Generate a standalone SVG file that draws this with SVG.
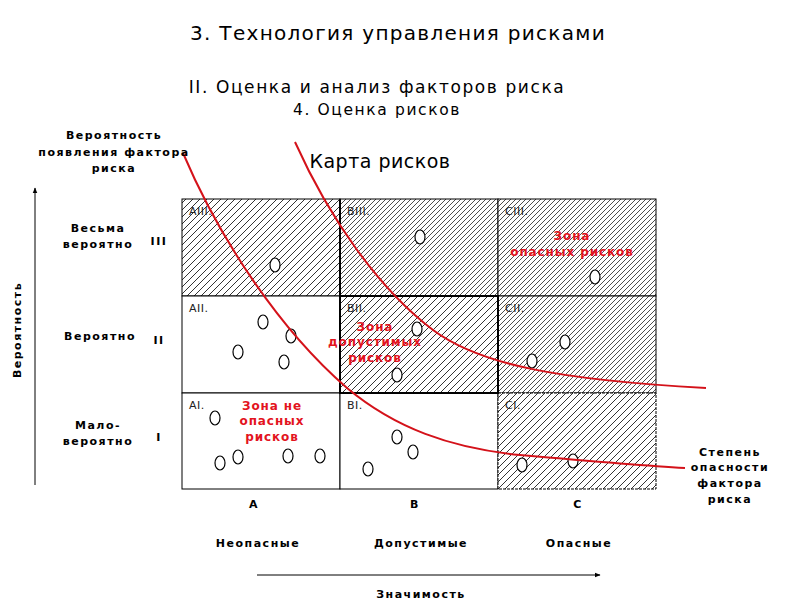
<svg xmlns="http://www.w3.org/2000/svg" width="800" height="600" viewBox="0 0 800 600">
<style>
text{font-family:"DejaVu Sans","Liberation Sans",sans-serif;fill:#000}
.t1{font-size:20px;letter-spacing:1.3px}
.t2{font-size:17px;letter-spacing:1.6px}
.t3{font-size:15.5px;letter-spacing:1.6px}
.t4{font-size:19px;letter-spacing:0.5px}
.b{font-size:11px;font-weight:bold;letter-spacing:1.5px}
.c{font-size:11px;fill:#222;letter-spacing:0.5px}
.z{font-size:12px;font-weight:bold;fill:#e3141e;letter-spacing:0.9px}
.cell{stroke:#000;stroke-width:1}
.thick{stroke:#000;stroke-width:2;fill:none}
.dot{fill:#fff;stroke:#000;stroke-width:1.2}
.red{fill:none;stroke:#d4121a;stroke-width:2}
.ax{stroke:#000;stroke-width:1;fill:none}
</style>
<defs>
<pattern id="h1" patternUnits="userSpaceOnUse" width="7" height="7">
<rect width="7" height="7" fill="#fff"/>
<path d="M0,7 L7,0 M-1,1 L1,-1 M6,8 L8,6" stroke="#000" stroke-width="0.8"/>
</pattern>
<pattern id="h2" patternUnits="userSpaceOnUse" width="5" height="5">
<rect width="5" height="5" fill="#fff"/>
<path d="M0,5 L5,0 M-1,1 L1,-1 M4,6 L6,4" stroke="#000" stroke-width="0.7"/>
</pattern>
<marker id="ar" viewBox="0 0 10 10" refX="9" refY="5" markerWidth="6" markerHeight="6" orient="auto">
<path d="M0,1 L10,5 L0,9 z" fill="#000"/>
</marker>
</defs>
<rect width="800" height="600" fill="#fff"/>

<g id="titles">
<text class="t1" x="398" y="40" text-anchor="middle">3. Технология управления рисками</text>
<text class="t2" x="377" y="93" text-anchor="middle">II. Оценка и анализ факторов риска</text>
<text class="t3" x="377" y="115" text-anchor="middle">4. Оценка рисков</text>
<text class="t4" x="380" y="168" text-anchor="middle">Карта рисков</text>
</g>

<g id="cell-AIII"><rect class="cell" x="182" y="199" width="158" height="97" fill="url(#h1)"/><text class="c" x="189" y="215">AIII.</text></g>
<g id="cell-BIII"><rect class="cell" x="340" y="199" width="158" height="97" fill="url(#h2)"/><text class="c" x="347" y="215">BIII.</text></g>
<g id="cell-CIII"><rect class="cell" x="498" y="199" width="158" height="97" fill="url(#h2)"/><text class="c" x="505" y="215">CIII.</text></g>
<g id="cell-AII"><rect class="cell" x="182" y="296" width="158" height="97" fill="#fff"/><text class="c" x="189" y="312">AII.</text></g>
<g id="cell-BII"><rect class="cell" x="340" y="296" width="158" height="97" fill="url(#h1)"/><text class="c" x="347" y="312">BII.</text></g>
<g id="cell-CII"><rect class="cell" x="498" y="296" width="158" height="97" fill="url(#h2)"/><text class="c" x="505" y="312">CII.</text></g>
<g id="cell-AI"><rect class="cell" x="182" y="393" width="158" height="96" fill="#fff"/><text class="c" x="189" y="409">AI.</text></g>
<g id="cell-BI"><rect class="cell" x="340" y="393" width="158" height="96" fill="#fff"/><text class="c" x="347" y="409">BI.</text></g>
<g id="cell-CI"><rect class="cell" x="498" y="393" width="158" height="96" fill="url(#h1)" stroke-dasharray="3,1"/><text class="c" x="505" y="409">CI.</text></g>
<g id="borders">
<line class="thick" x1="340" y1="199" x2="340" y2="296"/>
<rect class="thick" x="340" y="296" width="158" height="97"/>
</g>

<g id="dots">
<ellipse class="dot" cx="275" cy="265" rx="5" ry="7"/>
<ellipse class="dot" cx="420" cy="237" rx="5" ry="7"/>
<ellipse class="dot" cx="595" cy="277" rx="5" ry="7"/>
<ellipse class="dot" cx="263" cy="322" rx="5" ry="7"/>
<ellipse class="dot" cx="291" cy="336" rx="5" ry="7"/>
<ellipse class="dot" cx="238" cy="352" rx="5" ry="7"/>
<ellipse class="dot" cx="284" cy="362" rx="5" ry="7"/>
<ellipse class="dot" cx="417" cy="329" rx="5" ry="7"/>
<ellipse class="dot" cx="397" cy="375" rx="5" ry="7"/>
<ellipse class="dot" cx="565" cy="342" rx="5" ry="7"/>
<ellipse class="dot" cx="532" cy="361" rx="5" ry="7"/>
<ellipse class="dot" cx="215" cy="418" rx="5" ry="7"/>
<ellipse class="dot" cx="220" cy="463" rx="5" ry="7"/>
<ellipse class="dot" cx="238" cy="457" rx="5" ry="7"/>
<ellipse class="dot" cx="288" cy="456" rx="5" ry="7"/>
<ellipse class="dot" cx="320" cy="456" rx="5" ry="7"/>
<ellipse class="dot" cx="397" cy="437" rx="5" ry="7"/>
<ellipse class="dot" cx="413" cy="452" rx="5" ry="7"/>
<ellipse class="dot" cx="368" cy="469" rx="5" ry="7"/>
<ellipse class="dot" cx="522" cy="465" rx="5" ry="7"/>
<ellipse class="dot" cx="573" cy="461" rx="5" ry="7"/>
</g>

<g id="zones">
<text class="z" text-anchor="middle"><tspan x="572" y="240">Зона</tspan><tspan x="572" y="256">опасных рисков</tspan></text>
<text class="z" text-anchor="middle"><tspan x="375" y="331">Зона</tspan><tspan x="375" y="346">допустимых</tspan><tspan x="375" y="362">рисков</tspan></text>
<text class="z" text-anchor="middle"><tspan x="272" y="410">Зона не</tspan><tspan x="272" y="425">опасных</tspan><tspan x="272" y="441">рисков</tspan></text>
</g>

<g id="connectors">
<path class="red" d="M183,153 C220,240 280,330 347,388 C395,428 450,448 520,455 C600,462 650,466 685,468"/>
<path class="red" d="M295,142 C330,220 380,290 433,330 C480,365 560,380 706,388"/>
<line class="ax" x1="35" y1="485" x2="35" y2="188" marker-end="url(#ar)"/>
<line class="ax" x1="257" y1="575" x2="600" y2="575" marker-end="url(#ar)"/>
</g>

<g id="labels">
<text class="b" text-anchor="middle"><tspan x="114" y="139">Вероятность</tspan><tspan x="114" y="156">появления фактора</tspan><tspan x="114" y="172">риска</tspan></text>
<text class="b" text-anchor="middle"><tspan x="98" y="232">Весьма</tspan><tspan x="98" y="248">вероятно</tspan></text>
<text class="b" x="159" y="245" text-anchor="middle">III</text>
<text class="b" x="100" y="340" text-anchor="middle">Вероятно</text>
<text class="b" x="159" y="344" text-anchor="middle">II</text>
<text class="b" text-anchor="middle"><tspan x="98" y="429">Мало-</tspan><tspan x="98" y="445">вероятно</tspan></text>
<text class="b" x="159" y="441" text-anchor="middle">I</text>
<text class="b" transform="translate(21,330) rotate(-90)" text-anchor="middle">Вероятность</text>
<text class="b" x="254" y="508" text-anchor="middle">А</text>
<text class="b" x="415" y="508" text-anchor="middle">В</text>
<text class="b" x="578" y="508" text-anchor="middle">С</text>
<text class="b" x="258" y="547" text-anchor="middle">Неопасные</text>
<text class="b" x="421" y="547" text-anchor="middle">Допустимые</text>
<text class="b" x="579" y="547" text-anchor="middle">Опасные</text>
<text class="b" x="421" y="598" text-anchor="middle">Значимость</text>
<text class="b" text-anchor="middle"><tspan x="730" y="456">Степень</tspan><tspan x="730" y="471">опасности</tspan><tspan x="730" y="487">фактора</tspan><tspan x="730" y="503">риска</tspan></text>
</g>
</svg>
